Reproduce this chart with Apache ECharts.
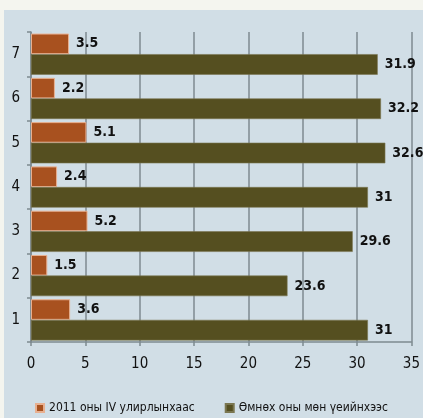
<!DOCTYPE html>
<html><head><meta charset="utf-8">
<script src="https://cdn.jsdelivr.net/npm/echarts@6/dist/echarts.min.js"></script>
<style>
html,body{margin:0;padding:0;background:#f4f5ef;}
#wrap{position:absolute;left:0;top:0;width:423px;height:418px;background:#f4f5ef;}
#panel{position:absolute;left:4px;top:10px;width:419px;height:408px;background:#d1dee6;}
#c{position:absolute;left:0;top:0;width:423px;height:418px;}
</style></head>
<body>
<div id="wrap"><div id="panel"></div><div id="c"></div></div>
<script>
var categories = ['1','2','3','4','5','6','7'];
var seriesNames = ['2011 оны IV улирлынхаас', 'Өмнөх оны мөн үеийнхээс'];
var quarterValues = [3.6, 1.5, 5.2, 2.4, 5.1, 2.2, 3.5];
var yearValues = [31, 23.6, 29.6, 31, 32.6, 32.2, 31.9];
var xTicks = [0, 35, 5];

var chart = echarts.init(document.getElementById('c'), null, {renderer:'canvas'});
var font = '"DejaVu Sans Condensed", "Liberation Sans Narrow", sans-serif';
var labelStyle = {show:true, position:'right', distance:7, color:'#111', fontWeight:'bold', fontSize:14, fontFamily:font};
chart.setOption({
  backgroundColor:'transparent',
  animation:false,
  legend:{
    data:seriesNames, bottom:4, left:'center', width:423, padding:0, itemWidth:8, itemHeight:8, itemGap:30,
    icon:'rect', textStyle:{fontSize:12, color:'#111', fontFamily:font}
  },
  grid:{left:31, right:11, top:32, bottom:76},
  xAxis:{
    type:'value', min:xTicks[0], max:xTicks[1], interval:xTicks[2],
    axisLine:{show:true, lineStyle:{color:'#7e8a90', width:1.5}},
    axisTick:{show:true, length:4, inside:false, lineStyle:{color:'#7e8a90', width:1.5}},
    splitLine:{show:true, lineStyle:{color:'#7e8a90', width:1.5}},
    axisLabel:{fontSize:15, color:'#111', margin:15, fontFamily:font}
  },
  yAxis:{
    type:'category', data:categories,
    axisLine:{show:true, lineStyle:{color:'#7e8a90', width:1.5}},
    axisTick:{show:true, length:4, lineStyle:{color:'#7e8a90', width:1.5}},
    axisLabel:{fontSize:15, color:'#111', margin:11, fontFamily:font}
  },
  series:[
    {name:seriesNames[0], type:'bar', data:quarterValues, barGap:'0%', barCategoryGap:'7%', z:2,
     itemStyle:{color:'#a8511f', borderColor:'#e8b090', borderWidth:1}, label:labelStyle},
    {name:seriesNames[1], type:'bar', data:yearValues, barGap:'0%', barCategoryGap:'7%', z:2,
     itemStyle:{color:'#554f20', borderColor:'#7a7650', borderWidth:0.6}, label:labelStyle}
  ]
});
</script>
</body></html>
